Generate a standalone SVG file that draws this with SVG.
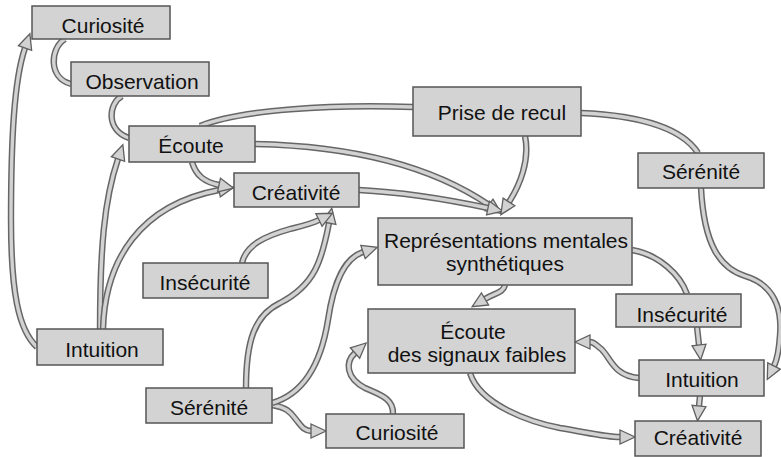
<svg xmlns="http://www.w3.org/2000/svg" width="781" height="457" viewBox="0 0 781 457">
<style>
.n rect{fill:#d3d3d3;stroke:#555;stroke-width:1.5}
.n text{font-family:"Liberation Sans",Arial,sans-serif;font-size:21px;fill:#111;text-anchor:middle}
.o{fill:none;stroke:#666;stroke-width:6.4}
.i{fill:none;stroke:#d2d2d2;stroke-width:3.4}
.a{marker-end:url(#ah)}
</style>
<defs>
<marker id="ah" markerUnits="userSpaceOnUse" viewBox="0 0 17 16" markerWidth="17" markerHeight="16" refX="1" refY="8" orient="auto" overflow="visible">
<path d="M1,1 L16,8 L1,15 Z" fill="#d2d2d2" stroke="#606060" stroke-width="1.3" stroke-linejoin="miter"/>
</marker>
</defs>
<rect width="781" height="457" fill="#fff"/>
<g id="connectors">
<path class="o" d="M65,39 C50,48 48,78 71,84"/><path class="i" d="M65,39 C50,48 48,78 71,84"/>
<path class="o" d="M122,96 C108,104 106,130 129,138"/><path class="i" d="M122,96 C108,104 106,130 129,138"/>
<path class="o" d="M37,347 C18,330 11,290 11,220 C11,140 14,80 25,48"/><path class="i a" d="M37,347 C18,330 11,290 11,220 C11,140 14,80 25,48"/>
<path class="o" d="M100,329 C100,250 104,200 118,159"/><path class="i a" d="M100,329 C100,250 104,200 118,159"/>
<path class="o" d="M103,329 C105,260 140,205 219,190"/><path class="i a" d="M103,329 C105,260 140,205 219,190"/>
<path class="o" d="M192,162 C196,176 205,182 219,185"/><path class="i a" d="M192,162 C196,176 205,182 219,185"/>
<path class="o" d="M413,107 C330,104 240,110 200,126"/><path class="i" d="M413,107 C330,104 240,110 200,126"/>
<path class="o" d="M255,144 C350,146 430,165 489,205"/><path class="i a" d="M255,144 C350,146 430,165 489,205"/>
<path class="o" d="M359,190 C400,192 450,200 488,208"/><path class="i a" d="M359,190 C400,192 450,200 488,208"/>
<path class="o" d="M525,136 C530,160 520,185 509,202"/><path class="i a" d="M525,136 C530,160 520,185 509,202"/>
<path class="o" d="M581,113 C630,115 680,125 698,153"/><path class="i" d="M581,113 C630,115 680,125 698,153"/>
<path class="o" d="M701,188 C704,245 720,268 745,276 C775,285 782,310 780,335 C779,350 777,360 774,366"/><path class="i a" d="M701,188 C704,245 720,268 745,276 C775,285 782,310 780,335 C779,350 777,360 774,366"/>
<path class="o" d="M632,250 C660,255 680,275 687,294"/><path class="i" d="M632,250 C660,255 680,275 687,294"/>
<path class="o" d="M505,285 C503,293 495,293 485,299"/><path class="i a" d="M505,285 C503,293 495,293 485,299"/>
<path class="o" d="M697,327 L699,345"/><path class="i a" d="M697,327 L699,345"/>
<path class="o" d="M700,396 L699,406"/><path class="i a" d="M700,396 L699,406"/>
<path class="o" d="M639,378 C612,376 610,355 600,348 C596,345 594,342 590,342"/><path class="i a" d="M639,378 C612,376 610,355 600,348 C596,345 594,342 590,342"/>
<path class="o" d="M470,373 C480,405 530,422 560,428 C590,433 605,437 620,437"/><path class="i a" d="M470,373 C480,405 530,422 560,428 C590,433 605,437 620,437"/>
<path class="o" d="M393,414 C394,398 378,394 365,388 C346,378 345,362 355,353"/><path class="i a" d="M393,414 C394,398 378,394 365,388 C346,378 345,362 355,353"/>
<path class="o" d="M272,405 C290,408 292,415 298,422 C302,427 305,431 311,431"/><path class="i a" d="M272,405 C290,408 292,415 298,422 C302,427 305,431 311,431"/>
<path class="o" d="M272,403 C300,395 320,370 328,320 C334,280 345,258 363,252"/><path class="i a" d="M272,403 C300,395 320,370 328,320 C334,280 345,258 363,252"/>
<path class="o" d="M246,388 C246,340 255,315 280,303 C315,285 322,260 329,223"/><path class="i a" d="M246,388 C246,340 255,315 280,303 C315,285 322,260 329,223"/>
<path class="o" d="M242,263 C246,245 265,236 290,229 C302,226 311,224 319,220"/><path class="i a" d="M242,263 C246,245 265,236 290,229 C302,226 311,224 319,220"/>
</g>
<g id="n1" class="n"><rect x="32" y="6" width="138" height="33"/><text x="103" y="33">Curiosité</text></g>
<g id="n2" class="n"><rect x="71" y="62" width="138" height="34"/><text x="142" y="89">Observation</text></g>
<g id="n3" class="n"><rect x="129" y="126" width="126" height="36"/><text x="191" y="153">Écoute</text></g>
<g id="n4" class="n"><rect x="234" y="173" width="125" height="34"/><text x="296" y="200">Créativité</text></g>
<g id="n5" class="n"><rect x="143" y="263" width="125" height="35"/><text x="205" y="290">Insécurité</text></g>
<g id="n6" class="n"><rect x="37" y="329" width="126" height="36"/><text x="102" y="357">Intuition</text></g>
<g id="n7" class="n"><rect x="146" y="388" width="126" height="35"/><text x="209" y="415">Sérénité</text></g>
<g id="n8" class="n"><rect x="326" y="414" width="138" height="34"/><text x="397" y="440">Curiosité</text></g>
<g id="n9" class="n"><rect x="368" y="309" width="207" height="64"/><text x="473" y="339">Écoute</text><text x="477" y="362">des signaux faibles</text></g>
<g id="n10" class="n"><rect x="378" y="218" width="254" height="67"/><text x="506" y="248">Représentations mentales</text><text x="505" y="271">synthétiques</text></g>
<g id="n11" class="n"><rect x="413" y="87" width="168" height="49"/><text x="502" y="120">Prise de recul</text></g>
<g id="n12" class="n"><rect x="638" y="153" width="126" height="35"/><text x="701" y="179">Sérénité</text></g>
<g id="n13" class="n"><rect x="616" y="294" width="125" height="33"/><text x="682" y="322">Insécurité</text></g>
<g id="n14" class="n"><rect x="639" y="360" width="125" height="36"/><text x="702" y="387">Intuition</text></g>
<g id="n15" class="n"><rect x="635" y="421" width="126" height="35"/><text x="698" y="445">Créativité</text></g>
</svg>
